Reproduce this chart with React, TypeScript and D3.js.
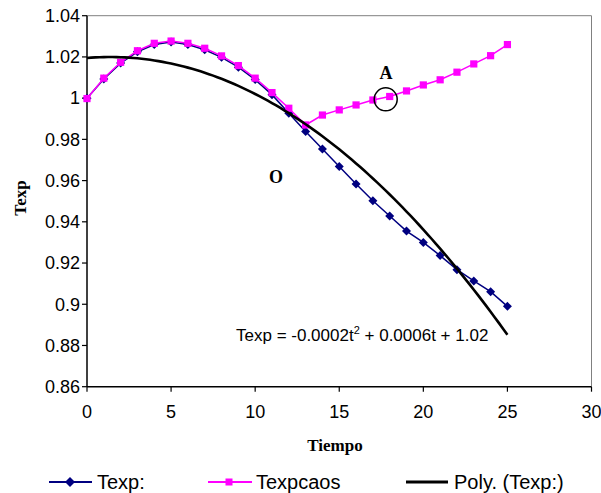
import React from "react";
import * as d3 from "d3";

const tiempo = [0,1,2,3,4,5,6,7,8,9,10,11,12,13,14,15,16,17,18,19,20,21,22,23,24,25];
const texp = [1.0000,1.0093,1.0170,1.0225,1.0260,1.0272,1.0260,1.0235,1.0198,1.0150,1.0090,1.0017,0.9927,0.9838,0.9753,0.9668,0.9583,0.9502,0.9428,0.9355,0.9300,0.9236,0.9168,0.9113,0.9061,0.8990];
const texpcaos = [0.9998,1.0097,1.0174,1.0230,1.0266,1.0277,1.0266,1.0242,1.0205,1.0158,1.0097,1.0027,0.9951,0.9870,0.9918,0.9943,0.9967,0.9991,1.0008,1.0035,1.0064,1.0089,1.0126,1.0166,1.0206,1.0260];
const xTicks = [0,5,10,15,20,25,30];
const yTicks = [0.86,0.88,0.9,0.92,0.94,0.96,0.98,1,1.02,1.04];
const legendLabels = ["Texp:", "Texpcaos", "Poly. (Texp:)"];
const equationText = "Texp = -0.0002t";
const equationRest = " + 0.0006t + 1.02";

// least-squares quadratic trendline (as the spreadsheet's Poly. trendline)
function quadFit(xs: number[], ys: number[]) {
  let s = [0,0,0,0,0], t = [0,0,0];
  xs.forEach((x, i) => {
    const y = ys[i];
    for (let k = 0; k < 5; k++) s[k] += Math.pow(x, k);
    for (let k = 0; k < 3; k++) t[k] += y * Math.pow(x, k);
  });
  const A = [[s[0],s[1],s[2],t[0]],[s[1],s[2],s[3],t[1]],[s[2],s[3],s[4],t[2]]];
  for (let i = 0; i < 3; i++) {
    for (let j = i + 1; j < 3; j++) {
      const f = A[j][i] / A[i][i];
      for (let k = i; k < 4; k++) A[j][k] -= f * A[i][k];
    }
  }
  const c = [0,0,0];
  for (let i = 2; i >= 0; i--) {
    let v = A[i][3];
    for (let k = i + 1; k < 3; k++) v -= A[i][k] * c[k];
    c[i] = v / A[i][i];
  }
  return c;
}

export default function App() {
  const W = 601, H = 493;
  const x = d3.scaleLinear().domain([0, 30]).range([87, 591.5]);
  const y = d3.scaleLinear().domain([0.86, 1.04]).range([386.7, 15.7]);
  const line = d3.line<number>().x((_, i) => x(tiempo[i])).y(d => y(d));
  const coef = quadFit(tiempo, texp);
  const polyT = d3.range(0, 25.001, 0.25);
  const polyLine = d3.line<number>().x(t => x(t)).y(t => y(coef[0] + coef[1] * t + coef[2] * t * t));
  const sans = "'Liberation Sans', Arial, sans-serif";
  const serif = "'Liberation Serif', 'Times New Roman', serif";
  const navy = "#000080";
  const mag = "#FF00FF";
  const diamond = (cx: number, cy: number, r: number) => `M${cx},${cy - r}L${cx + r},${cy}L${cx},${cy + r}L${cx - r},${cy}Z`;

  return (
    <svg width={W} height={H} style={{ position: "absolute", left: 0, top: 0, background: "#fff" }}>
      <rect x={0} y={0} width={W} height={H} fill="#fff" />
      {/* plot border top/right */}
      <line x1={x(0)} x2={x(30)} y1={y(1.04)} y2={y(1.04)} stroke="#808080" strokeWidth={1} />
      <line x1={x(30)} x2={x(30)} y1={y(1.04)} y2={y(0.86)} stroke="#808080" strokeWidth={1} />
      {/* axes */}
      <line x1={x(0)} x2={x(0)} y1={y(1.04)} y2={y(0.86)} stroke="#000" strokeWidth={1.5} />
      <line x1={x(0)} x2={x(30)} y1={y(0.86)} y2={y(0.86)} stroke="#000" strokeWidth={1.5} />
      {yTicks.map(v => (
        <g key={"y" + v}>
          <line x1={x(0) - 5} x2={x(0)} y1={y(v)} y2={y(v)} stroke="#000" strokeWidth={1.2} />
          <text x={x(0) - 7} y={y(v)} dy="0.35em" textAnchor="end" fontFamily={sans} fontSize={18}>{String(v)}</text>
        </g>
      ))}
      {xTicks.map(v => (
        <g key={"x" + v}>
          <line x1={x(v)} x2={x(v)} y1={y(0.86)} y2={y(0.86) + 5} stroke="#000" strokeWidth={1.2} />
          <text x={x(v)} y={418} textAnchor="middle" fontFamily={sans} fontSize={18}>{String(v)}</text>
        </g>
      ))}
      <text x={335} y={451} textAnchor="middle" fontFamily={serif} fontWeight="bold" fontSize={17}>Tiempo</text>
      <text transform={`translate(26,198) rotate(-90)`} textAnchor="middle" fontFamily={serif} fontWeight="bold" fontSize={17}>Texp</text>

      {/* Texp series */}
      <path d={line(texp) || ""} fill="none" stroke={navy} strokeWidth={1.5} />
      {texp.map((v, i) => (
        <path key={"d" + i} d={diamond(x(tiempo[i]), y(v), 4.5)} fill={navy} />
      ))}
      {/* Texpcaos series */}
      <path d={line(texpcaos) || ""} fill="none" stroke={mag} strokeWidth={1.5} />
      {texpcaos.map((v, i) => (
        <rect key={"s" + i} x={x(tiempo[i]) - 3.6} y={y(v) - 3.6} width={7.2} height={7.2} fill={mag} />
      ))}
      {/* trendline */}
      <path d={polyLine(polyT) || ""} fill="none" stroke="#000" strokeWidth={2.6} />

      {/* annotations */}
      <text x={386} y={78.5} textAnchor="middle" fontFamily={serif} fontWeight="bold" fontSize={18}>A</text>
      <circle cx={385.7} cy={99.3} r={11.5} fill="none" stroke="#000" strokeWidth={1.5} />
      <text x={276} y={183} textAnchor="middle" fontFamily={serif} fontWeight="bold" fontSize={18}>O</text>
      <text x={236} y={341} fontFamily={sans} fontSize={17}>
        {equationText}
        <tspan fontSize={11} dy={-7}>2</tspan>
        <tspan dy={7}>{equationRest}</tspan>
      </text>

      {/* legend */}
      <line x1={49} x2={92} y1={482} y2={482} stroke={navy} strokeWidth={2} />
      <path d={diamond(70, 482, 5)} fill={navy} />
      <text x={97} y={488.5} fontFamily={sans} fontSize={20}>{legendLabels[0]}</text>
      <line x1={208} x2={252} y1={482} y2={482} stroke={mag} strokeWidth={2} />
      <rect x={225.5} y={478.5} width={7} height={7} fill={mag} />
      <text x={256} y={488.5} fontFamily={sans} fontSize={20}>{legendLabels[1]}</text>
      <line x1={406} x2={448} y1={482} y2={482} stroke="#000" strokeWidth={3} />
      <text x={454} y={488.5} fontFamily={sans} fontSize={20}>{legendLabels[2]}</text>
    </svg>
  );
}
